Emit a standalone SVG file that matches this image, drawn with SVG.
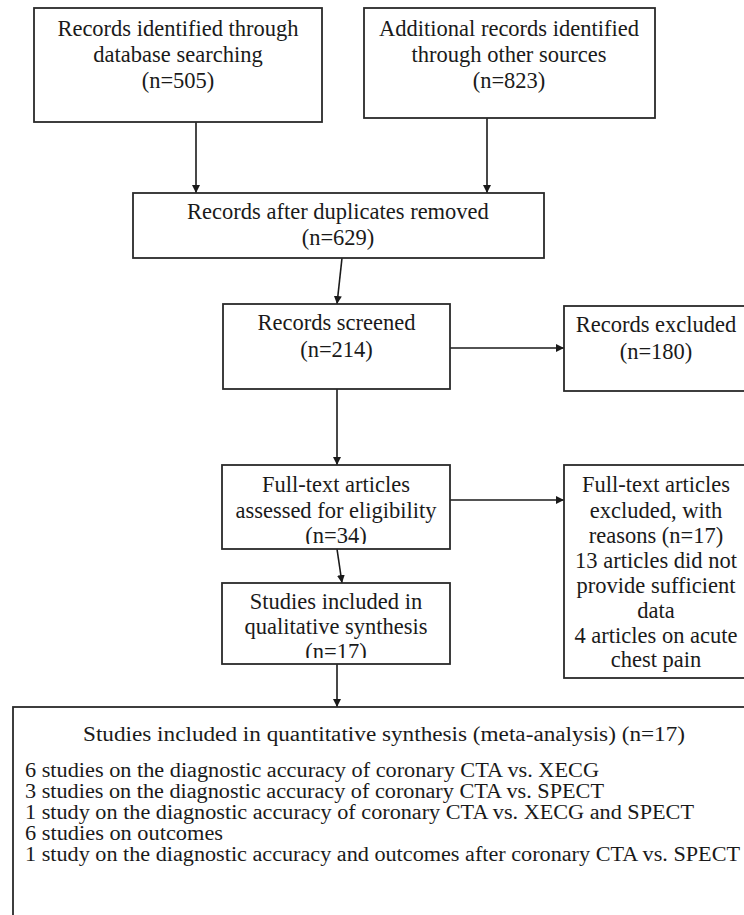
<svg xmlns="http://www.w3.org/2000/svg" width="744" height="915" viewBox="0 0 744 915">
<style>
.box{fill:#fff;stroke:#2a2a2a;stroke-width:1.8}
.t{font-family:"Liberation Serif","Times New Roman",serif;font-size:22.5px;fill:#1a1a1a;text-anchor:middle}
.l{font-family:"Liberation Serif","Times New Roman",serif;font-size:20.5px;fill:#1a1a1a}
.c{stroke:#1a1a1a;stroke-width:1.6;fill:none;marker-end:url(#ah)}
</style>
<defs>
<marker id="ah" viewBox="0 0 10 10" refX="10" refY="5" markerWidth="8" markerHeight="8" markerUnits="userSpaceOnUse" orient="auto">
<path d="M0,0 L10,5 L0,10 z" fill="#1a1a1a"/>
</marker>
<clipPath id="clip5"><rect x="222" y="465" width="228" height="79"/></clipPath>
<clipPath id="clip7"><rect x="222" y="583" width="228" height="75"/></clipPath>
</defs>
<rect width="744" height="915" fill="#fff"/>
<g id="connectors">
<line class="c" x1="196" y1="122" x2="196" y2="193"/>
<line class="c" x1="487" y1="118" x2="487" y2="193"/>
<line class="c" x1="342" y1="258" x2="337" y2="304"/>
<line class="c" x1="450" y1="348" x2="564" y2="348"/>
<line class="c" x1="337" y1="389" x2="337" y2="465"/>
<line class="c" x1="450" y1="500" x2="564" y2="500"/>
<line class="c" x1="337" y1="549" x2="342" y2="583"/>
<line class="c" x1="337" y1="664" x2="337" y2="707"/>
</g>
<g id="n1">
<rect class="box" x="34" y="8" width="288" height="114"/>
<text class="t" x="178" y="36">Records identified through</text>
<text class="t" x="178" y="62">database searching</text>
<text class="t" x="178" y="88">(n=505)</text>
</g>
<g id="n2">
<rect class="box" x="364" y="8" width="291" height="110"/>
<text class="t" x="509" y="36">Additional records identified</text>
<text class="t" x="509" y="62">through other sources</text>
<text class="t" x="509" y="88">(n=823)</text>
</g>
<g id="n3">
<rect class="box" x="133" y="193" width="411" height="65"/>
<text class="t" x="338" y="219">Records after duplicates removed</text>
<text class="t" x="338" y="245">(n=629)</text>
</g>
<g id="n4">
<rect class="box" x="223" y="304" width="227" height="85"/>
<text class="t" x="336.5" y="330">Records screened</text>
<text class="t" x="336.5" y="357">(n=214)</text>
</g>
<g id="n5">
<rect class="box" x="564" y="306" width="186" height="85"/>
<text class="t" x="656" y="332">Records excluded</text>
<text class="t" x="656" y="359">(n=180)</text>
</g>
<g id="n6">
<rect class="box" x="222" y="465" width="228" height="84"/>
<g clip-path="url(#clip5)">
<text class="t" x="336" y="492">Full-text articles</text>
<text class="t" x="336" y="518">assessed for eligibility</text>
<text class="t" x="336" y="543">(n=34)</text>
</g>
</g>
<g id="n7">
<rect class="box" x="564" y="465" width="186" height="213"/>
<text class="t" x="656" y="492">Full-text articles</text>
<text class="t" x="656" y="518">excluded, with</text>
<text class="t" x="656" y="543">reasons (n=17)</text>
<text class="t" x="656" y="568">13 articles did not</text>
<text class="t" x="656" y="593">provide sufficient</text>
<text class="t" x="656" y="618">data</text>
<text class="t" x="656" y="643">4 articles on acute</text>
<text class="t" x="656" y="667">chest pain</text>
</g>
<g id="n8">
<rect class="box" x="222" y="583" width="228" height="81"/>
<g clip-path="url(#clip7)">
<text class="t" x="336" y="609">Studies included in</text>
<text class="t" x="336" y="634">qualitative synthesis</text>
<text class="t" x="336" y="659">(n=17)</text>
</g>
</g>
<g id="n9">
<rect class="box" x="13" y="707" width="745" height="220"/>
<text class="l" x="83" y="741" textLength="602" lengthAdjust="spacingAndGlyphs">Studies included in quantitative synthesis (meta-analysis) (n=17)</text>
<text class="l" x="25" y="777" textLength="574" lengthAdjust="spacingAndGlyphs">6 studies on the diagnostic accuracy of coronary CTA vs. XECG</text>
<text class="l" x="25" y="798" textLength="579" lengthAdjust="spacingAndGlyphs">3 studies on the diagnostic accuracy of coronary CTA vs. SPECT</text>
<text class="l" x="25" y="819" textLength="669" lengthAdjust="spacingAndGlyphs">1 study on the diagnostic accuracy of coronary CTA vs. XECG and SPECT</text>
<text class="l" x="25" y="840" textLength="198" lengthAdjust="spacingAndGlyphs">6 studies on outcomes</text>
<text class="l" x="25" y="861" textLength="715" lengthAdjust="spacingAndGlyphs">1 study on the diagnostic accuracy and outcomes after coronary CTA vs. SPECT</text>
</g>
</svg>
